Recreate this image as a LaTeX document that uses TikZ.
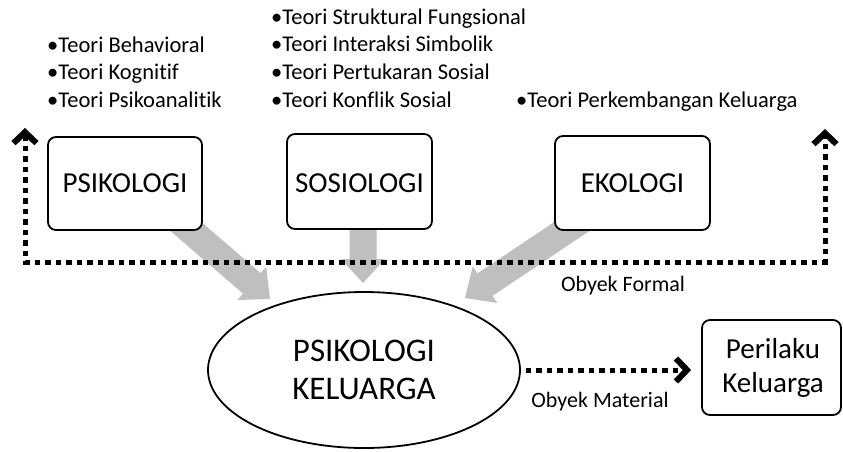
\documentclass[tikz,border=0pt]{standalone}
\usepackage{fontspec}
\setmainfont{Carlito}[Ligatures={NoCommon}]
\usetikzlibrary{arrows.meta,calc,shapes.geometric}
\definecolor{arrgray}{RGB}{191,191,191}
\newcommand\fatarrow[2]{%
  \coordinate (#1c) at ($(#2)!24pt!(#1)$);
  \fill[arrgray] ($(#1)!13.5pt!90:(#2)$) -- ($(#1c)!13.5pt!90:(#2)$) -- ($(#1c)!22pt!90:(#2)$) -- (#2)
    -- ($(#1c)!22pt!-90:(#2)$) -- ($(#1c)!13.5pt!-90:(#2)$) -- ($(#1)!13.5pt!-90:(#2)$) -- cycle;}
\begin{document}
\begin{tikzpicture}[x=1pt,y=-1pt,
  box/.style={draw, line width=1.8pt, rounded corners=8pt, fill=white, inner sep=0pt},
  boxtxt/.style={inner sep=0pt, font=\fontsize{29}{34}\selectfont, align=center},
  lst/.style={anchor=base west, inner sep=0pt, font=\fontsize{22.5}{27}\selectfont},
  lbl/.style={inner sep=0pt, font=\fontsize{22}{27}\selectfont},
  dotline/.style={line width=5pt, dash pattern=on 5.5pt off 5pt},
  barb/.tip={Straight Barb[length=11pt,width=23pt,line width=6pt]}
]
\useasboundingbox (0,0) rectangle (843,451);
% gray arrows
\coordinate (s1) at (162,206); \coordinate (t1) at (270,299);
\coordinate (s2) at (363,200); \coordinate (t2) at (363,283);
\coordinate (s3) at (604,205); \coordinate (t3) at (465,298);
\fatarrow{s1}{t1}
\fatarrow{s2}{t2}
\fatarrow{s3}{t3}
% dotted frame
\coordinate (lt) at (25,128); \coordinate (lb) at (25,262);
\coordinate (rb) at (825,262); \coordinate (rt) at (825,129);
\draw[dotline, {barb}-{barb}] (lt) -- (lb) -- (rb) -- (rt);
% boxes
\node[box, minimum width=154pt, minimum height=93pt] (psi) at (125,183.5) {};
\node[boxtxt] (psit) at (125,183.5) {PSIKOLOGI};
\node[box, minimum width=145pt, minimum height=95pt] (sos) at (359.5,181.5) {};
\node[boxtxt] (sost) at (359.5,183.5) {SOSIOLOGI};
\node[box, minimum width=155pt, minimum height=94pt] (eko) at (632.5,183) {};
\node[boxtxt] (ekot) at (632.5,183.5) {EKOLOGI};
\node[box, minimum width=139pt, minimum height=95pt] (per) at (771.5,367.5) {};
\node[boxtxt] (pert) at (773,367.5) {Perilaku\\Keluarga};
\node[draw, ellipse, line width=1.8pt, minimum width=312pt, minimum height=156pt, inner sep=0pt,
  fill=white, align=center, font=\fontsize{33}{38}\selectfont] (pk) at (364,370) {PSIKOLOGI\\KELUARGA};
% material arrow
\draw[dotline, -{barb}] ($(pk.east)+(5,0)$) -- ($(pk.east -| per.west)+(-10,0)$);
% labels
\node[lbl] (of) at (623,286) {Obyek Formal};
\node[lbl] (om) at (600,402) {Obyek Material};
% lists
\node[lst] (l1) at (47,52) {•Teori Behavioral};
\node[lst] (l2) at (47,79) {•Teori Kognitif};
\node[lst] (l3) at (47,107) {•Teori Psikoanalitik};
\node[lst] (m1) at (271,24) {•Teori Struktural Fungsional};
\node[lst] (m2) at (271,51) {•Teori Interaksi Simbolik};
\node[lst] (m3) at (271,79) {•Teori Pertukaran Sosial};
\node[lst] (m4) at (271,107) {•Teori Konflik Sosial};
\node[lst] (r1) at (516,107) {•Teori Perkembangan Keluarga};
\end{tikzpicture}
\end{document}
